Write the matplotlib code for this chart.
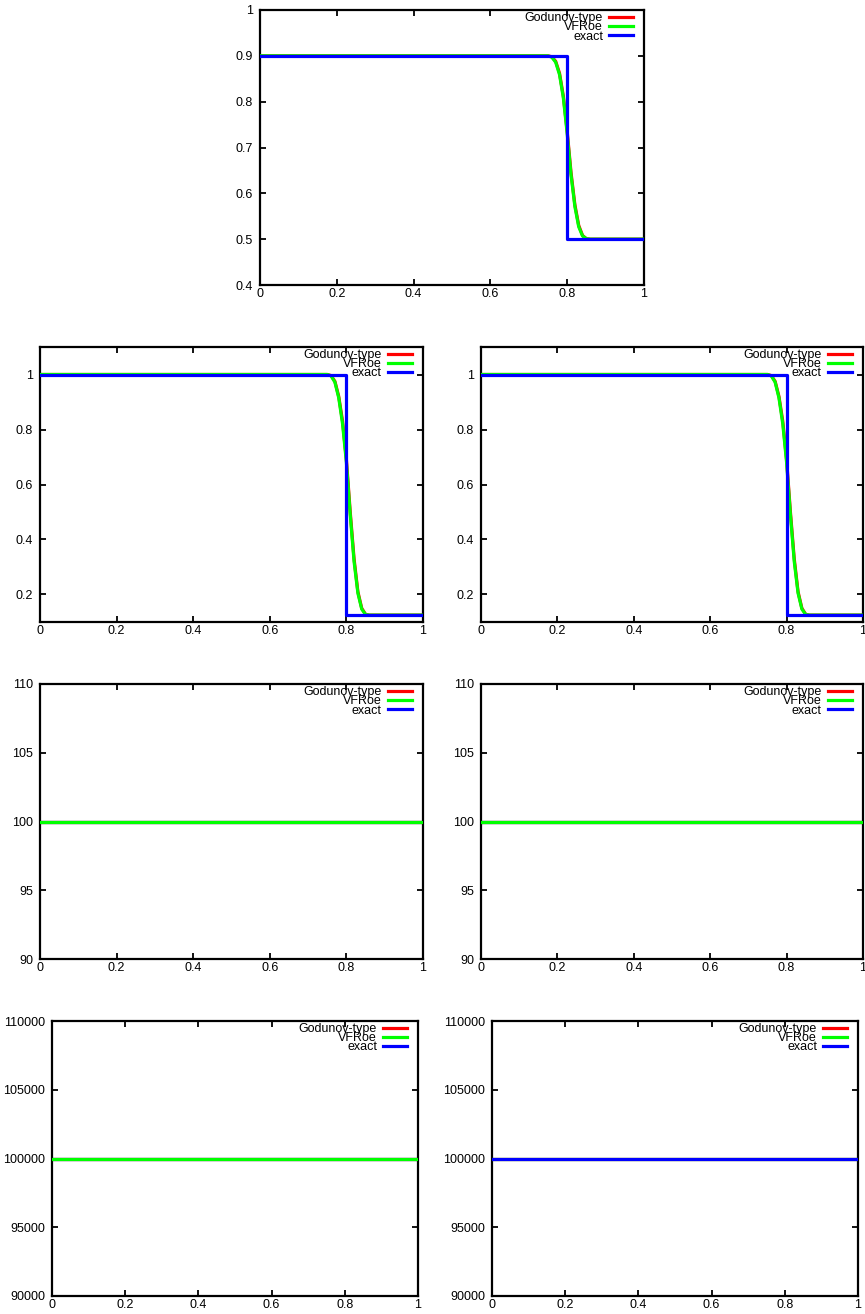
import matplotlib
matplotlib.use("Agg")
from matplotlib import pyplot
import matplotlib.ticker

pyplot.rcParams['font.family'] = ['Liberation Sans', 'DejaVu Sans']
pyplot.rcParams['font.size'] = 9

# numerical solutions (Godunov-type and VFRoe are on top of each other)
x_num = [0.0, 0.74, 0.75, 0.76, 0.77, 0.78, 0.79, 0.80, 0.81, 0.82, 0.83, 0.84, 0.85, 0.86, 1.0]
rho_godunov = [0.9, 0.9, 0.9, 0.898, 0.888, 0.862, 0.812, 0.735, 0.645, 0.575, 0.53, 0.508, 0.501, 0.5, 0.5]
rho_vfroe = [0.9, 0.9, 0.9, 0.897, 0.886, 0.859, 0.808, 0.730, 0.640, 0.571, 0.527, 0.507, 0.501, 0.5, 0.5]
alpha_godunov = [1.0, 1.0, 1.0, 0.996, 0.975, 0.92, 0.83, 0.69, 0.50, 0.33, 0.21, 0.15, 0.128, 0.125, 0.125]
alpha_vfroe = [1.0, 1.0, 1.0, 0.995, 0.972, 0.915, 0.82, 0.68, 0.49, 0.32, 0.205, 0.147, 0.127, 0.125, 0.125]

# exact solution
x_exact = [0.0, 0.8, 0.8, 1.0]
rho_exact = [0.9, 0.9, 0.5, 0.5]
alpha_exact = [1.0, 1.0, 0.125, 0.125]

x_const = [0.0, 1.0]
u_const = [100.0, 100.0]
p_const = [100000.0, 100000.0]

x_ticks = [0, 0.2, 0.4, 0.6, 0.8, 1]

W, H = 865, 1314

# (left, top, right, bottom) in pixels, y limits, y ticks, series, exact on top?
panels = [
    ((260, 10, 644, 285), (0.4, 1.0), [0.4, 0.5, 0.6, 0.7, 0.8, 0.9, 1.0],
     (x_num, rho_godunov), (x_num, rho_vfroe), (x_exact, rho_exact), True),
    ((40, 347, 423, 622), (0.1, 1.1), [0.2, 0.4, 0.6, 0.8, 1.0],
     (x_num, alpha_godunov), (x_num, alpha_vfroe), (x_exact, alpha_exact), True),
    ((481, 347, 863, 622), (0.1, 1.1), [0.2, 0.4, 0.6, 0.8, 1.0],
     (x_num, alpha_godunov), (x_num, alpha_vfroe), (x_exact, alpha_exact), True),
    ((40, 684, 423, 959), (90, 110), [90, 95, 100, 105, 110],
     (x_const, u_const), (x_const, u_const), (x_const, u_const), False),
    ((481, 684, 863, 959), (90, 110), [90, 95, 100, 105, 110],
     (x_const, u_const), (x_const, u_const), (x_const, u_const), False),
    ((52, 1021, 418, 1296), (90000, 110000), [90000, 95000, 100000, 105000, 110000],
     (x_const, p_const), (x_const, p_const), (x_const, p_const), False),
    ((492, 1021, 858, 1296), (90000, 110000), [90000, 95000, 100000, 105000, 110000],
     (x_const, p_const), (x_const, p_const), (x_const, p_const), True),
]

fig = pyplot.figure(figsize=(W / 100, H / 100), dpi=100, facecolor='w')

for (l, t, r, b), ylim, yticks, god, vfr, exa, exact_top in panels:
    ax = fig.add_axes([l / W, 1 - b / H, (r - l) / W, (b - t) / H])
    ax.plot(god[0], god[1], color="#ff0000", lw=2.3, label="Godunov-type", zorder=2)
    ax.plot(vfr[0], vfr[1], color="#00ff00", lw=2.3, label="VFRoe", zorder=3)
    ax.plot(exa[0], exa[1], color="#0000ff", lw=2.3, label="exact",
            zorder=4 if exact_top else 1)
    ax.set_xlim(0, 1)
    ax.set_ylim(*ylim)
    ax.set_xticks(x_ticks)
    ax.set_yticks(yticks)
    ax.xaxis.set_major_formatter(matplotlib.ticker.FormatStrFormatter('%g'))
    ax.yaxis.set_major_formatter(matplotlib.ticker.FormatStrFormatter('%g'))
    ax.tick_params(direction='in', length=4, width=1.3, top=True, right=True,
                   labelsize=9, colors='black')
    ax.tick_params(axis='x', pad=2)
    ax.tick_params(axis='y', pad=5)
    for s in ax.spines.values():
        s.set_linewidth(1.6)
    ax.legend(loc='upper right', bbox_to_anchor=(1 - 11 / (r - l), 1 - 2 / (b - t)),
              frameon=False, markerfirst=False,
              labelspacing=-0.22, handlelength=1.9, handletextpad=0.5,
              borderaxespad=0.0, borderpad=0.0, fontsize=9)

pyplot.savefig("out.png", dpi=100, facecolor='w')
